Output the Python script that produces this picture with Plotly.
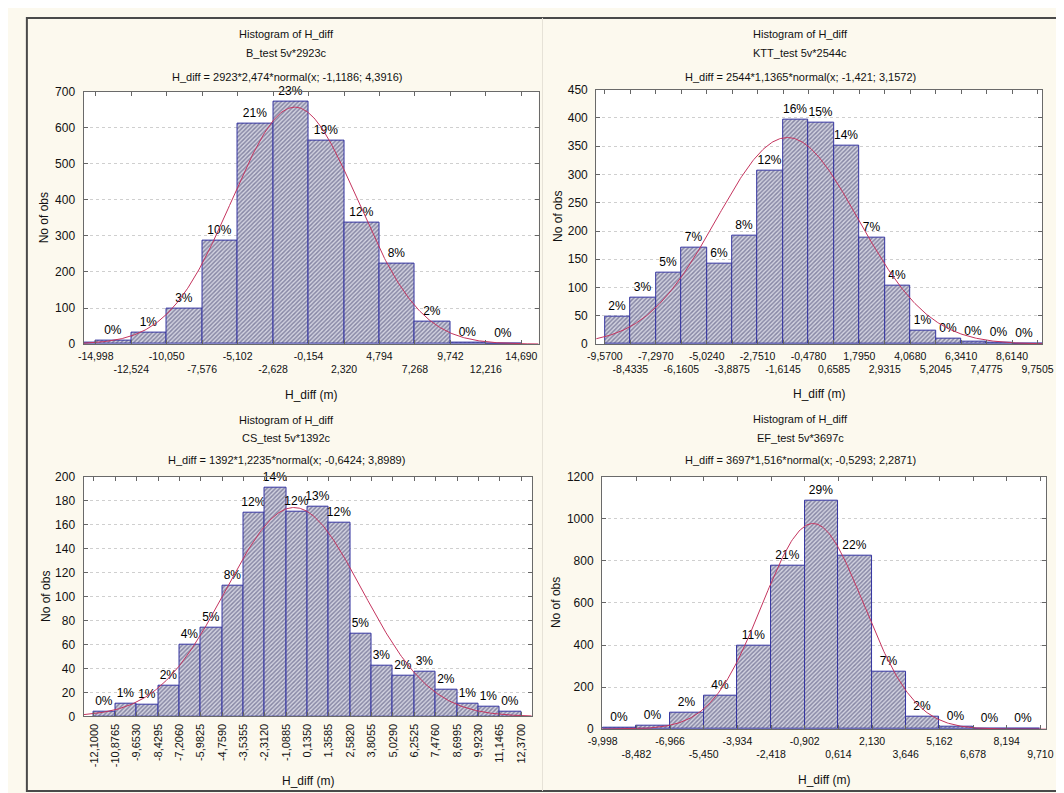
import numpy as np
import plotly.graph_objects as go

W, H = 1064, 793
FONT = "Liberation Sans, Arial, sans-serif"

# ---------------- data ----------------
# Panel 1: B_test
b_ticks = ["-14,998", "-12,524", "-10,050", "-7,576", "-5,102", "-2,628", "-0,154",
           "2,320", "4,794", "7,268", "9,742", "12,216", "14,690"]
b_bin_lo = [-17.472, -14.998, -12.524, -10.050, -7.576, -5.102, -2.628, -0.154,
            2.320, 4.794, 7.268, 9.742, 12.216]
b_counts = [5, 10, 32, 98, 287, 610, 672, 565, 337, 224, 62, 4, 2]
b_pct = ["0%", "0%", "1%", "3%", "10%", "21%", "23%", "19%", "12%", "8%", "2%", "0%", "0%"]
b_fit = dict(n=2923, w=2.474, mu=-1.1186, sd=4.3916)

# Panel 2: KTT_test
k_ticks = ["-9,5700", "-8,4335", "-7,2970", "-6,1605", "-5,0240", "-3,8875", "-2,7510",
           "-1,6145", "-0,4780", "0,6585", "1,7950", "2,9315", "4,0680", "5,2045",
           "6,3410", "7,4775", "8,6140", "9,7505"]
k_bin_lo = [-9.5700, -8.4335, -7.2970, -6.1605, -5.0240, -3.8875, -2.7510, -1.6145,
            -0.4780, 0.6585, 1.7950, 2.9315, 4.0680, 5.2045, 6.3410, 7.4775, 8.6140, 9.7505]
k_counts = [48, 82, 127, 170, 143, 191, 307, 397, 391, 351, 188, 104, 24, 9, 4, 2, 1, 1]
k_pct = ["2%", "3%", "5%", "7%", "6%", "8%", "12%", "16%", "15%", "14%", "7%", "4%",
         "1%", "0%", "0%", "0%", "0%", "0%"]
k_fit = dict(n=2544, w=1.1365, mu=-1.421, sd=3.1572)

# Panel 3: CS_test
c_ticks = ["-12,1000", "-10,8765", "-9,6530", "-8,4295", "-7,2060", "-5,9825", "-4,7590",
           "-3,5355", "-2,3120", "-1,0885", "0,1350", "1,3585", "2,5820", "3,8055",
           "5,0290", "6,2525", "7,4760", "8,6995", "9,9230", "11,1465", "12,3700"]
c_bin_lo = [-12.1000, -10.8765, -9.6530, -8.4295, -7.2060, -5.9825, -4.7590, -3.5355,
            -2.3120, -1.0885, 0.1350, 1.3585, 2.5820, 3.8055, 5.0290, 6.2525, 7.4760,
            8.6995, 9.9230, 11.1465]
c_counts = [4, 11, 10, 26, 60, 74, 109, 170, 191, 171, 175, 162, 69, 42, 34, 37, 22, 11, 8, 4]
c_pct = ["0%", "1%", "1%", "2%", "4%", "5%", "8%", "12%", "14%", "12%", "13%", "12%",
         "5%", "3%", "2%", "3%", "2%", "1%", "1%", "0%"]
c_fit = dict(n=1392, w=1.2235, mu=-0.6424, sd=3.8989)

# Panel 4: EF_test
e_ticks = ["-9,998", "-8,482", "-6,966", "-5,450", "-3,934", "-2,418", "-0,902",
           "0,614", "2,130", "3,646", "5,162", "6,678", "8,194", "9,710"]
e_bin_lo = [-9.998, -8.482, -6.966, -5.450, -3.934, -2.418, -0.902, 0.614, 2.130,
            3.646, 5.162, 6.678, 8.194]
e_counts = [5, 15, 80, 160, 395, 775, 1085, 825, 275, 57, 10, 3, 1]
e_pct = ["0%", "0%", "2%", "4%", "11%", "21%", "29%", "22%", "7%", "2%", "0%", "0%", "0%"]
e_fit = dict(n=3697, w=1.516, mu=-0.5293, sd=2.2871)

titles = [("Histogram of H_diff", "B_test 5v*2923c", "H_diff = 2923*2,474*normal(x; -1,1186; 4,3916)"),
          ("Histogram of H_diff", "KTT_test 5v*2544c", "H_diff = 2544*1,1365*normal(x; -1,421; 3,1572)"),
          ("Histogram of H_diff", "CS_test 5v*1392c", "H_diff = 1392*1,2235*normal(x; -0,6424; 3,8989)"),
          ("Histogram of H_diff", "EF_test 5v*3697c", "H_diff = 3697*1,516*normal(x; -0,5293; 2,2871)")]

# ---------------- layout geometry (pixels) ----------------
panels = [
    dict(ticks=b_ticks, lo=b_bin_lo, counts=b_counts, pct=b_pct, fit=b_fit,
         box=(63, 529, 78, 335), xr=(-15.85, 15.89), yr=(0, 700), dy=100, rot=False,
         tc=271, ty=(19, 39, 63), xt=387, yt=22),
    dict(ticks=k_ticks, lo=k_bin_lo, counts=k_counts, pct=k_pct, fit=k_fit,
         box=(588, 1045, 76, 335), xr=(-9.96, 9.97), yr=(0, 450), dy=50, rot=False,
         tc=797, ty=(19, 39, 63), xt=386, yt=549),
    dict(ticks=c_ticks, lo=c_bin_lo, counts=c_counts, pct=c_pct, fit=c_fit,
         box=(63, 522, 470, 714), xr=(-12.70, 12.98), yr=(0, 200), dy=20, rot=True,
         tc=271, ty=(412, 431, 453), xt=780, yt=24),
    dict(ticks=e_ticks, lo=e_bin_lo, counts=e_counts, pct=e_pct, fit=e_fit,
         box=(594, 1049, 470, 727), xr=(-10.03, 9.98), yr=(0, 1200), dy=200, rot=False,
         tc=797, ty=(411, 431, 453), xt=779, yt=547),
]

def px(x):
    return x / W

def py(y):
    return 1 - y / H

BAR_MARKER = dict(color="#d2d2e0", line=dict(color="#3434a0", width=1),
                  pattern=dict(shape="/", fgcolor="#3a3a68", size=3, solidity=0.48))
PCT_FONT = dict(family=FONT, size=12, color="#000")

fig = go.Figure()
annotations = []
layout_axes = {}

for i, p in enumerate(panels, start=1):
    xa = "x" if i == 1 else f"x{i}"
    ya = "y" if i == 1 else f"y{i}"
    tickvals = [float(s.replace(",", ".")) for s in p["ticks"]]
    bw = p["fit"]["w"]
    lo_r, hi_r = p["xr"]
    centers = [lo + bw / 2 for lo in p["lo"]]
    inner = [k for k, lo in enumerate(p["lo"]) if lo >= lo_r and lo + bw <= hi_r]
    fig.add_trace(go.Bar(
        x=centers, y=p["counts"], width=[bw] * len(centers),
        text=[p["pct"][k] if k in inner else "" for k in range(len(centers))],
        textposition="outside", cliponaxis=False, constraintext="none",
        textfont=PCT_FONT, marker=BAR_MARKER,
        xaxis=xa, yaxis=ya, showlegend=False, hoverinfo="skip"))
    f = p["fit"]
    xs = np.linspace(lo_r, hi_r, 400)
    ys = f["n"] * f["w"] * np.exp(-0.5 * ((xs - f["mu"]) / f["sd"]) ** 2) / (f["sd"] * np.sqrt(2 * np.pi))
    fig.add_trace(go.Scatter(x=xs, y=ys, mode="lines", line=dict(color="#c4345e", width=1),
                             xaxis=xa, yaxis=ya, showlegend=False, hoverinfo="skip"))

    x0, x1, y0, y1 = p["box"]
    if p["rot"]:
        ticktext = p["ticks"]
    else:
        ticktext = [t if k % 2 == 0 else "<br>" + t for k, t in enumerate(p["ticks"])]
    xkey = "xaxis" if i == 1 else f"xaxis{i}"
    ykey = "yaxis" if i == 1 else f"yaxis{i}"
    layout_axes[xkey] = dict(
        domain=[px(x0), px(x1)], anchor=ya, range=list(p["xr"]),
        tickmode="array", tickvals=tickvals, ticktext=ticktext,
        tickangle=-90 if p["rot"] else 0,
        ticks="inside", ticklen=4, tickcolor="#666", mirror="ticks",
        showline=True, linecolor="#6a6a6a", linewidth=1, showgrid=False, zeroline=False,
        ticklabelstandoff=2,
        tickfont=dict(family=FONT, size=10.5 if not p["rot"] else 11, color="#111"))
    layout_axes[ykey] = dict(
        domain=[py(y1), py(y0)], anchor=xa, range=list(p["yr"]),
        tickmode="linear", tick0=0, dtick=p["dy"],
        ticks="inside", ticklen=4, tickcolor="#666", mirror="ticks",
        showline=True, linecolor="#6a6a6a", linewidth=1, ticklabelstandoff=5,
        showgrid=True, gridcolor="#cfcfcf", griddash="dot", gridwidth=1, zeroline=False,
        tickfont=dict(family=FONT, size=12, color="#111"))

    for line_text, yy in zip(titles[i - 1], p["ty"]):
        annotations.append(dict(text=line_text, x=px(p["tc"]), y=py(yy), xref="paper", yref="paper",
                                showarrow=False, xanchor="center", yanchor="middle",
                                font=dict(family=FONT, size=11, color="#111")))
    annotations.append(dict(text="H_diff (m)", x=px((x0 + x1) / 2), y=py(p["xt"]), xref="paper",
                            yref="paper", showarrow=False, xanchor="center", yanchor="middle",
                            font=dict(family=FONT, size=12, color="#111")))
    annotations.append(dict(text="No of obs", x=px(p["yt"]), y=py((y0 + y1) / 2), xref="paper",
                            yref="paper", showarrow=False, textangle=-90, xanchor="center",
                            yanchor="middle", font=dict(family=FONT, size=12, color="#111")))

shapes = [
    dict(type="rect", xref="paper", yref="paper", x0=px(5), x1=px(1061), y0=py(790), y1=py(3),
         line=dict(color="#4a4a4a", width=2), layer="below"),
    dict(type="line", xref="paper", yref="paper", x0=px(533), x1=px(533), y0=py(790), y1=py(3),
         line=dict(color="#e6e2d6", width=1), layer="below"),
]

fig.update_layout(width=W, height=H, margin=dict(l=0, r=0, t=0, b=0),
                  paper_bgcolor="#fcf9ee", plot_bgcolor="#ffffff",
                  annotations=annotations, shapes=shapes, bargap=0,
                  font=dict(family=FONT, size=12, color="#111"),
                  **layout_axes)

fig.write_html("out.html")
